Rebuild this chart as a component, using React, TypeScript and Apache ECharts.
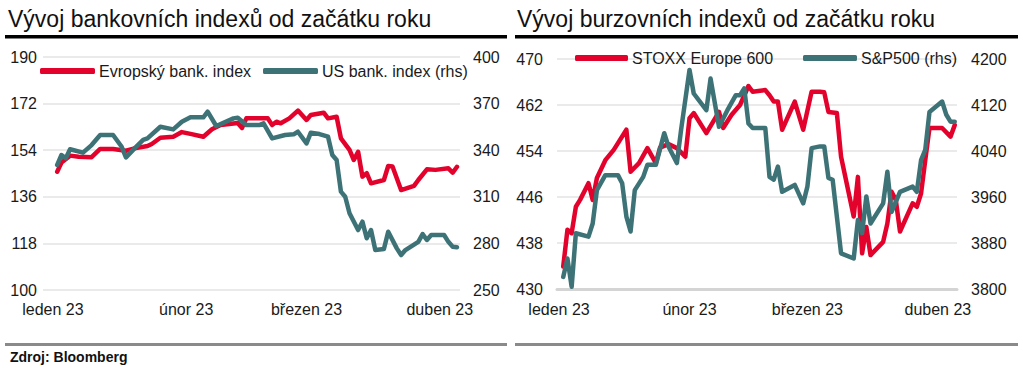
import React, { useEffect, useRef } from 'react';
import * as echarts from 'echarts';

// x positions are days since 1 Jan 2023 (0 = 1 Jan)
const monthTicks = [0, 31, 59, 90];
const monthLabels = ['leden 23', 'únor 23', 'březen 23', 'duben 23'];

const bankLeftTicks = [100, 118, 136, 154, 172, 190];
const bankRightTicks = [250, 280, 310, 340, 370, 400];
const stockLeftTicks = [430, 438, 446, 454, 462, 470];
const stockRightTicks = [3800, 3880, 3960, 4040, 4120, 4200];

const euBankDays = [1, 2, 4, 6, 9, 11, 14, 17, 19, 22, 23, 25, 28, 30, 32, 35, 37, 39, 43, 44, 45, 50, 51, 52, 53, 55, 57, 59, 60, 63, 64, 66, 67, 69, 70, 71, 72, 73, 74, 77, 78, 79, 81, 84, 85, 87, 89, 92, 93, 94];
const euBankValues = [145.7, 149.2, 151.9, 151.5, 151.3, 154.5, 154.5, 153.8, 154.7, 155.6, 156.4, 158.8, 159.2, 161.0, 160.3, 159.2, 162.1, 163.7, 164.5, 162.6, 166.3, 166.3, 163.7, 165.0, 164.4, 166.3, 169.3, 165.7, 167.6, 168.5, 166.3, 166.9, 158.6, 154.1, 150.2, 153.4, 143.8, 145.1, 141.2, 142.5, 147.9, 147.7, 138.6, 140.2, 142.5, 146.6, 146.4, 147.0, 145.3, 147.6];

const usBankDays = [1, 2, 3, 4, 7, 9, 11, 14, 16, 17, 19, 21, 22, 25, 28, 30, 32, 35, 36, 38, 42, 43, 45, 48, 49, 51, 54, 56, 57, 59, 60, 62, 64, 65, 66, 67, 68, 69, 71, 72, 73, 74, 75, 77, 78, 80, 81, 82, 85, 86, 87, 88, 91, 92, 93, 94];
const usBankValues = [330.5, 336.9, 334.8, 340.6, 338.4, 343.3, 349.8, 349.8, 342.2, 335.4, 341.2, 346.6, 347.6, 355.1, 353.4, 358.3, 361.2, 361.2, 364.8, 355.6, 360.5, 360.9, 356.2, 356.2, 357.3, 347.6, 349.8, 350.2, 351.9, 344.4, 351.3, 350.4, 348.7, 336.9, 333.7, 313.3, 310.0, 299.4, 288.6, 294.0, 283.3, 288.6, 275.7, 276.4, 287.5, 276.8, 272.5, 275.7, 281.0, 286.0, 282.2, 285.4, 285.4, 281.0, 277.9, 277.5];

const stoxxDays = [1, 2, 3, 4, 5, 7, 8, 9, 11, 13, 16, 17, 19, 21, 23, 24, 26, 28, 30, 31, 32, 35, 38, 39, 41, 43, 45, 46, 49, 50, 51, 52, 53, 56, 58, 60, 62, 63, 64, 66, 67, 70, 71, 72, 73, 74, 77, 78, 79, 80, 81, 84, 85, 86, 87, 88, 91, 93, 94];
const stoxxValues = [433.9, 440.3, 439.7, 444.3, 445.5, 448.4, 445.5, 449.3, 452.4, 454.2, 457.7, 450.4, 451.9, 454.5, 451.9, 454.6, 455.2, 454.5, 453.0, 459.7, 460.6, 457.1, 460.8, 458.0, 460.3, 462.0, 465.3, 464.3, 464.6, 463.7, 462.6, 462.6, 457.7, 462.6, 457.7, 464.3, 464.3, 464.2, 460.8, 460.6, 453.0, 442.6, 449.5, 436.2, 440.8, 435.9, 438.2, 441.4, 446.9, 445.5, 440.0, 444.9, 444.3, 446.6, 452.4, 458.0, 458.0, 456.5, 458.5];

const spDays = [1, 2, 3, 4, 7, 8, 9, 11, 14, 15, 16, 17, 18, 20, 21, 23, 25, 26, 28, 29, 31, 32, 35, 36, 38, 40, 42, 43, 44, 45, 46, 49, 50, 51, 52, 53, 56, 58, 59, 60, 62, 63, 64, 65, 67, 70, 71, 72, 73, 74, 77, 78, 79, 81, 84, 85, 86, 87, 88, 91, 92, 93, 94];
const spValues = [3821, 3853, 3804, 3897, 3891, 3914, 3972, 3998, 3998, 3984, 3926, 3900, 3972, 3995, 4016, 4016, 4071, 4048, 4019, 4077, 4181, 4140, 4111, 4166, 4082, 4111, 4137, 4137, 4149, 4088, 4080, 4080, 3995, 3990, 4013, 3969, 3981, 3949, 3978, 4045, 4048, 4048, 3993, 3990, 3862, 3853, 3920, 3897, 3961, 3914, 3949, 4004, 3934, 3969, 3978, 3969, 4024, 4042, 4108, 4126, 4103, 4091, 4091];

const seriesNames = {
  eu: 'Evropský bank. index',
  us: 'US bank. index (rhs)',
  stoxx: 'STOXX Europe 600',
  sp: 'S&P500 (rhs)',
};

const RED = '#E3022C';
const TEAL = '#3D7377';
const FONT = "'Liberation Sans', Arial, sans-serif";
const TXT = '#1a1a1a';

const pairs = (xs: number[], ys: number[]) => xs.map((x, i) => [x, ys[i]]);

export default function App() {
  const ref = useRef<HTMLDivElement>(null);

  useEffect(() => {
    if (!ref.current) return;
    const chart = echarts.init(ref.current, undefined, { renderer: 'svg' });

    const xAxisBase = (gridIndex: number, min: number, max: number, margin: number, axisLine: any) => ({
      type: 'value',
      gridIndex,
      min,
      max,
      axisLine,
      axisTick: { show: false },
      splitLine: { show: false },
      axisLabel: {
        customValues: monthTicks,
        formatter: (v: number) => monthLabels[monthTicks.indexOf(Math.round(v))] ?? '',
        color: TXT,
        fontFamily: FONT,
        fontSize: 16,
        margin,
      },
    });

    const yAxisBase = (gridIndex: number, ticks: number[], position: string, margin: number, split: boolean) => ({
      type: 'value',
      gridIndex,
      position,
      min: ticks[0],
      max: ticks[ticks.length - 1],
      interval: ticks[1] - ticks[0],
      axisLine: { show: false },
      axisTick: { show: false },
      splitLine: { show: split, lineStyle: { color: '#e3e3e3', width: 1.5 } },
      axisLabel: { color: TXT, fontFamily: FONT, fontSize: 16, margin, formatter: (v: number) => String(v) },
    });

    const lineSeries = (name: string, data: number[][], color: string, xAxisIndex: number, yAxisIndex: number, z: number) => ({
      type: 'line',
      name,
      data,
      xAxisIndex,
      yAxisIndex,
      showSymbol: false,
      symbol: 'none',
      z,
      lineStyle: { color, width: 4.5, join: 'round', cap: 'round' },
      itemStyle: { color },
    });

    const legend = (name: string, left: number, centerY: number, w: number) => ({
      data: [name],
      left,
      top: centerY - 9,
      icon: 'roundRect',
      itemWidth: w,
      itemHeight: 6,
      padding: 0,
      selectedMode: false,
      textStyle: { color: TXT, fontFamily: FONT, fontSize: 16, padding: [0, 0, 0, -1] },
    });

    chart.setOption({
      animation: false,
      backgroundColor: '#ffffff',
      grid: [
        { left: 43, top: 57, width: 417, height: 233 },
        { left: 557, top: 59, width: 400, height: 230 },
      ],
      xAxis: [
        xAxisBase(0, -2.3, 94.7, 11, { show: false }),
        xAxisBase(1, -0.48, 94.54, 12, { show: true, lineStyle: { color: '#d4d4d4', width: 3 } }),
      ],
      yAxis: [
        yAxisBase(0, bankLeftTicks, 'left', 6, true),
        yAxisBase(0, bankRightTicks, 'right', 13, false),
        yAxisBase(1, stockLeftTicks, 'left', 14, true),
        yAxisBase(1, stockRightTicks, 'right', 14, false),
      ],
      legend: [
        legend(seriesNames.eu, 40, 72, 55),
        legend(seriesNames.us, 263, 72, 55),
        legend(seriesNames.stoxx, 575, 59, 53),
        legend(seriesNames.sp, 803, 59, 54),
      ],
      series: [
        lineSeries(seriesNames.eu, pairs(euBankDays, euBankValues), RED, 0, 0, 2),
        lineSeries(seriesNames.us, pairs(usBankDays, usBankValues), TEAL, 0, 1, 3),
        lineSeries(seriesNames.stoxx, pairs(stoxxDays, stoxxValues), RED, 1, 2, 2),
        lineSeries(seriesNames.sp, pairs(spDays, spValues), TEAL, 1, 3, 3),
      ],
      graphic: [
        { type: 'text', left: 8, top: 7, style: { text: 'Vývoj bankovních indexů od začátku roku', font: `23px ${FONT}`, fill: '#111' } },
        { type: 'text', left: 517, top: 7, style: { text: 'Vývoj burzovních indexů od začátku roku', font: `23px ${FONT}`, fill: '#111' } },
        { type: 'rect', shape: { x: 5, y: 35, width: 502, height: 3.5 }, style: { fill: '#000' } },
        { type: 'rect', shape: { x: 515, y: 35, width: 503, height: 3.5 }, style: { fill: '#000' } },
        { type: 'rect', shape: { x: 5, y: 343, width: 502, height: 3 }, style: { fill: '#8a8a8a' } },
        { type: 'rect', shape: { x: 515, y: 343, width: 503, height: 3 }, style: { fill: '#8a8a8a' } },
        { type: 'text', left: 10, top: 350, style: { text: 'Zdroj: Bloomberg', font: `bold 14px ${FONT}`, fill: '#111' } },
      ],
    });

    return () => chart.dispose();
  }, []);

  return <div ref={ref} style={{ position: 'absolute', left: 0, top: 0, width: 1023, height: 373 }} />;
}
